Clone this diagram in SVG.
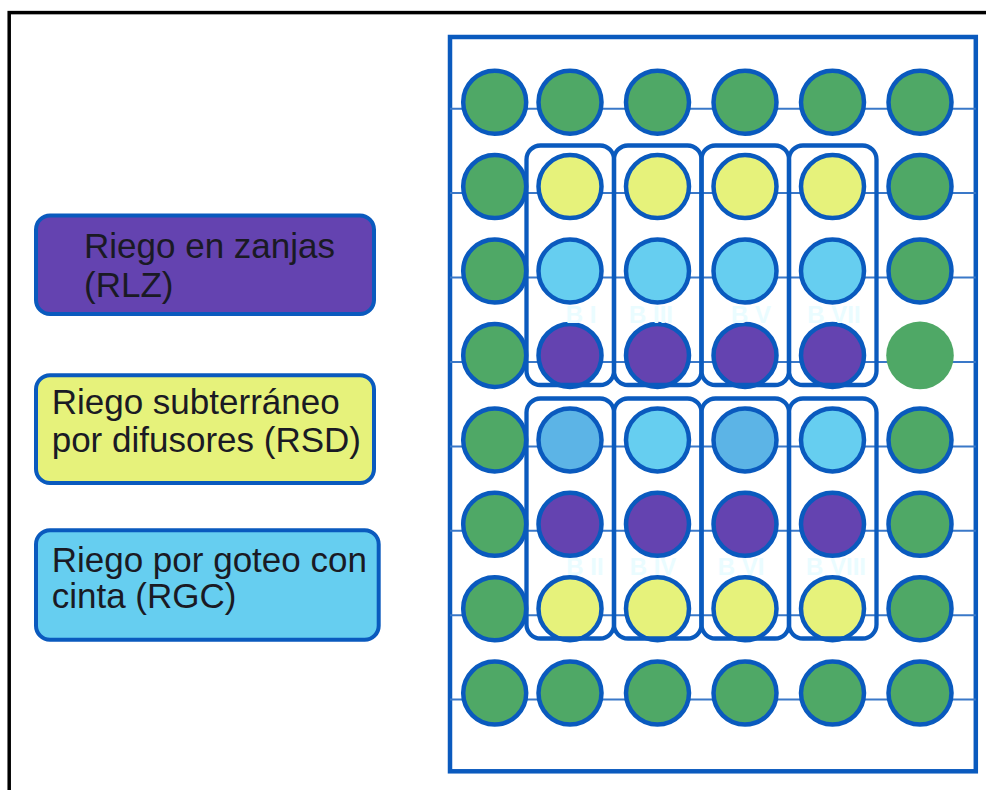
<svg xmlns="http://www.w3.org/2000/svg" width="986" height="790" viewBox="0 0 986 790">
<defs>
<style>
.lg{stroke:#0a5abe;stroke-width:4;}
.lt{font-family:"Liberation Sans",Arial,sans-serif;font-size:35px;fill:#1a1a24;}
.bl{font-family:"Liberation Sans",Arial,sans-serif;font-size:24px;font-weight:bold;fill:#eafcff;text-anchor:middle;}
.c{stroke:#0a5abe;stroke-width:4.5;}
.g{fill:#4fa866;}
.y{fill:#e6f27b;}
.lb{fill:#66cef0;}
.db{fill:#5cb4e6;}
.p{fill:#6443b0;}
.bx{fill:none;stroke:#0a5abe;stroke-width:4.3;}
.ln{stroke:#3a78c8;stroke-width:2;}
</style>
</defs>
<rect x="9.2" y="12.6" width="1000" height="800" fill="#ffffff" stroke="#000000" stroke-width="3.5"/>

<g id="legend-rlz">
<rect class="lg" x="36" y="215.5" width="338" height="98.5" rx="14" fill="#6443b0"/>
<text class="lt" x="84" y="258.3">Riego en zanjas</text>
<text class="lt" x="84" y="296.7">(RLZ)</text>
</g>
<g id="legend-rsd">
<rect class="lg" x="36" y="375.3" width="338" height="107.7" rx="14" fill="#e6f27b"/>
<text class="lt" x="51.7" y="414.3">Riego subterráneo</text>
<text class="lt" x="51.7" y="451.7">por difusores (RSD)</text>
</g>
<g id="legend-rgc">
<rect class="lg" x="36" y="530.3" width="342.7" height="109.4" rx="14" fill="#66cef0"/>
<text class="lt" x="51.7" y="571.7">Riego por goteo con</text>
<text class="lt" x="51.7" y="608.3">cinta (RGC)</text>
</g>

<g id="field">
<rect x="450" y="37" width="525.8" height="734.3" fill="none" stroke="#0a5abe" stroke-width="4.5"/>
</g>

<g id="connectors">
<line class="ln" x1="450" y1="108.7" x2="975.8" y2="108.7"/>
<line class="ln" x1="450" y1="193.1" x2="975.8" y2="193.1"/>
<line class="ln" x1="450" y1="277.5" x2="975.8" y2="277.5"/>
<line class="ln" x1="450" y1="361.9" x2="975.8" y2="361.9"/>
<line class="ln" x1="450" y1="446.4" x2="975.8" y2="446.4"/>
<line class="ln" x1="450" y1="530.8" x2="975.8" y2="530.8"/>
<line class="ln" x1="450" y1="615.2" x2="975.8" y2="615.2"/>
<line class="ln" x1="450" y1="699.6" x2="975.8" y2="699.6"/>
</g>

<g id="border-top">
<circle class="c g" cx="494.7" cy="102.2" r="31.5"/>
<circle class="c g" cx="570" cy="102.2" r="31.5"/>
<circle class="c g" cx="657.5" cy="102.2" r="31.5"/>
<circle class="c g" cx="745" cy="102.2" r="31.5"/>
<circle class="c g" cx="832.5" cy="102.2" r="31.5"/>
<circle class="c g" cx="920" cy="102.2" r="31.5"/>
</g>
<g id="border-bottom">
<circle class="c g" cx="494.7" cy="693.1" r="31.5"/>
<circle class="c g" cx="570" cy="693.1" r="31.5"/>
<circle class="c g" cx="657.5" cy="693.1" r="31.5"/>
<circle class="c g" cx="745" cy="693.1" r="31.5"/>
<circle class="c g" cx="832.5" cy="693.1" r="31.5"/>
<circle class="c g" cx="920" cy="693.1" r="31.5"/>
</g>
<g id="border-left">
<circle class="c g" cx="494.7" cy="186.6" r="31.5"/>
<circle class="c g" cx="494.7" cy="271" r="31.5"/>
<circle class="c g" cx="494.7" cy="355.4" r="31.5"/>
<circle class="c g" cx="494.7" cy="439.9" r="31.5"/>
<circle class="c g" cx="494.7" cy="524.3" r="31.5"/>
<circle class="c g" cx="494.7" cy="608.7" r="31.5"/>
</g>
<g id="border-right">
<circle class="c g" cx="920" cy="186.6" r="31.5"/>
<circle class="c g" cx="920" cy="271" r="31.5"/>
<circle class="g" cx="920" cy="355.4" r="33.8"/>
<circle class="c g" cx="920" cy="439.9" r="31.5"/>
<circle class="c g" cx="920" cy="524.3" r="31.5"/>
<circle class="c g" cx="920" cy="608.7" r="31.5"/>
</g>

<g id="block-BI">
<circle class="c y" cx="570" cy="186.6" r="31.5"/>
<circle class="c lb" cx="570" cy="271" r="31.5"/>
<circle class="c p" cx="570" cy="355.4" r="31.5"/>
<rect class="bx" x="526.5" y="145.5" width="87.5" height="239.5" rx="14"/>
<text class="bl" x="581" y="323">B I</text>
</g>
<g id="block-BIII">
<circle class="c y" cx="657.5" cy="186.6" r="31.5"/>
<circle class="c lb" cx="657.5" cy="271" r="31.5"/>
<circle class="c p" cx="657.5" cy="355.4" r="31.5"/>
<rect class="bx" x="614" y="145.5" width="87.5" height="239.5" rx="14"/>
<text class="bl" x="651" y="323">B III</text>
</g>
<g id="block-BV">
<circle class="c y" cx="745" cy="186.6" r="31.5"/>
<circle class="c lb" cx="745" cy="271" r="31.5"/>
<circle class="c p" cx="745" cy="355.4" r="31.5"/>
<rect class="bx" x="701.5" y="145.5" width="87.5" height="239.5" rx="14"/>
<text class="bl" x="751" y="323">B V</text>
</g>
<g id="block-BVII">
<circle class="c y" cx="832.5" cy="186.6" r="31.5"/>
<circle class="c lb" cx="832.5" cy="271" r="31.5"/>
<circle class="c p" cx="832.5" cy="355.4" r="31.5"/>
<rect class="bx" x="789" y="145.5" width="87.5" height="239.5" rx="14"/>
<text class="bl" x="834" y="323">B VII</text>
</g>

<g id="block-BII">
<circle class="c db" cx="570" cy="439.9" r="31.5"/>
<circle class="c p" cx="570" cy="524.3" r="31.5"/>
<circle class="c y" cx="570" cy="608.7" r="31.5"/>
<rect class="bx" x="526.5" y="398.5" width="87.5" height="240" rx="14"/>
<text class="bl" x="585" y="575">B II</text>
</g>
<g id="block-BIV">
<circle class="c lb" cx="657.5" cy="439.9" r="31.5"/>
<circle class="c p" cx="657.5" cy="524.3" r="31.5"/>
<circle class="c y" cx="657.5" cy="608.7" r="31.5"/>
<rect class="bx" x="614" y="398.5" width="87.5" height="240" rx="14"/>
<text class="bl" x="653" y="575">B IV</text>
</g>
<g id="block-BVI">
<circle class="c db" cx="745" cy="439.9" r="31.5"/>
<circle class="c p" cx="745" cy="524.3" r="31.5"/>
<circle class="c y" cx="745" cy="608.7" r="31.5"/>
<rect class="bx" x="701.5" y="398.5" width="87.5" height="240" rx="14"/>
<text class="bl" x="741" y="575">B VI</text>
</g>
<g id="block-BVIII">
<circle class="c lb" cx="832.5" cy="439.9" r="31.5"/>
<circle class="c p" cx="832.5" cy="524.3" r="31.5"/>
<circle class="c y" cx="832.5" cy="608.7" r="31.5"/>
<rect class="bx" x="789" y="398.5" width="87.5" height="240" rx="14"/>
<text class="bl" x="836" y="575">B VIII</text>
</g>
</svg>
